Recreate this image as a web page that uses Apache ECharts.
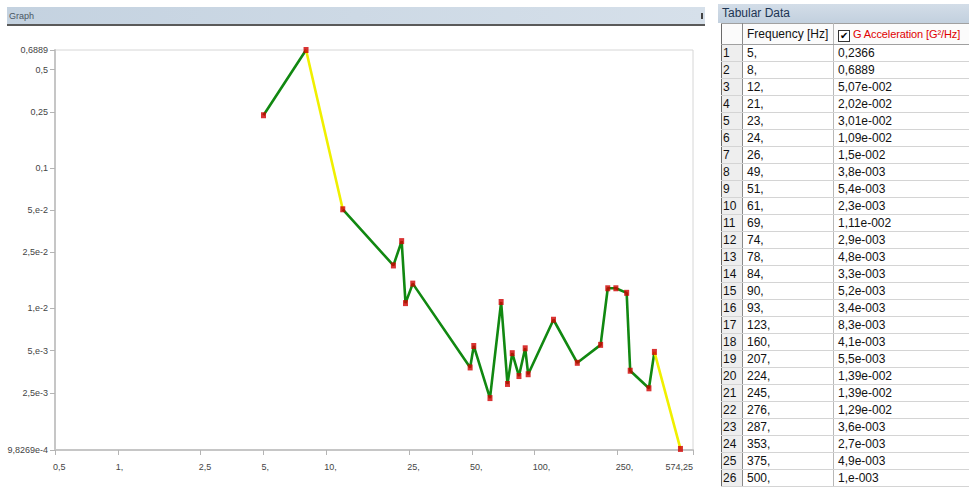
<!DOCTYPE html>
<html>
<head>
<meta charset="utf-8">
<script src="https://cdn.jsdelivr.net/npm/echarts@6/dist/echarts.min.js"></script>
<style>
  html, body { margin:0; padding:0; background:#fff; width:969px; height:487px; overflow:hidden; font-family:"Liberation Sans", Arial, sans-serif; }
  #chart { position:absolute; left:0; top:0; width:710px; height:487px; }
  #gHead { position:absolute; left:7px; top:7px; width:698px; height:19px; border-bottom:2px solid #5a5a5a;
           background:linear-gradient(to right,#c4d2e0,#d6e0ea); font-size:9px; color:#4a5563; line-height:19px; padding-left:2px; box-sizing:border-box; }
  #gHead .pin { position:absolute; right:2px; top:6px; width:2px; height:6px; background:#444; }
  #tHead { position:absolute; left:718px; top:4px; width:251px; height:19px; background:linear-gradient(to bottom,#d3dde8,#c2d0de);
           font-size:12px; color:#1d3553; line-height:19px; padding-left:4px; box-sizing:border-box; }
  #tabWrap { position:absolute; left:721px; top:23px; width:248px; height:464px; overflow:hidden; }
  table { border-collapse:collapse; table-layout:fixed; width:252px; font-size:12px; color:#111; }
  td { height:16px; padding:0 0 0 4px; border-bottom:1px solid #d4d4d4; border-right:1px solid #b8b8b8; white-space:nowrap; overflow:hidden; line-height:16px; }
  td.n { background:#eeeeee; border-right:1px solid #8a8a8a; border-left:1px solid #6a6a6a; padding-left:1px; }
  tr.h td { height:20px; line-height:20px; background:#fbfbfb; border-bottom:1px solid #a0a0a0; border-top:1px solid #a0a0a0; }
  .cb { display:inline-block; width:10px; height:10px; border:1px solid #333; font-size:10px; line-height:10px; text-align:center; vertical-align:-1px; margin:0 3px 0 2px; background:#fff; color:#000; }
  .red { color:#e00000; font-size:11px; letter-spacing:-0.1px; }
</style>
</head>
<body>
<div id="chart"></div>
<div id="gHead">Graph<span class="pin"></span></div>
<div id="tHead">Tabular Data</div>
<div id="tabWrap"></div>
<script>
// ---- data ----
const freq  = [5, 8, 12, 21, 23, 24, 26, 49, 51, 61, 69, 74, 78, 84, 90, 93, 123, 160, 207, 224, 245, 276, 287, 353, 375, 500];
const accel = [0.2366, 0.6889, 0.0507, 0.0202, 0.0301, 0.0109, 0.015, 0.0038, 0.0054, 0.0023, 0.0111, 0.0029, 0.0048, 0.0033, 0.0052, 0.0034, 0.0083, 0.0041, 0.0055, 0.0139, 0.0139, 0.0129, 0.0036, 0.0027, 0.0049, 0.001];
// colour class of each segment between consecutive points
const segColor = ['g','y','g','g','g','g','g','g','g','g','g','g','g','g','g','g','g','g','g','g','g','g','g','g','y'];

const xTickValues = [0.5, 1, 2.5, 5, 10, 25, 50, 100, 250, 574.25];
const xTickLabels = ['0,5', '1,', '2,5', '5,', '10,', '25,', '50,', '100,', '250,', '574,25'];
const yTickValues = [0.6889, 0.5, 0.25, 0.1, 0.05, 0.025, 0.01, 0.005, 0.0025, 0.00098269];
const yTickLabels = ['0,6889', '0,5', '0,25', '0,1', '5,e-2', '2,5e-2', '1,e-2', '5,e-3', '2,5e-3', '9,8269e-4'];

const tableHeaders = ['Frequency [Hz]', 'G Acceleration [G\u00B2/Hz]'];

// ---- helpers ----
function lookup(vals, labels, v) {
  for (let i = 0; i < vals.length; i++) if (Math.abs(vals[i] - v) / vals[i] < 1e-6) return labels[i];
  return '';
}
function segData(c) {
  const out = []; let last = -2;
  for (let i = 0; i < segColor.length; i++) {
    if (segColor[i] !== c) continue;
    if (last !== i) { if (out.length) out.push([freq[i], '-']); out.push([freq[i], accel[i]]); }
    out.push([freq[i + 1], accel[i + 1]]); last = i + 1;
  }
  return out;
}
function fmtAccel(v) {
  if (v >= 0.1) return String(v).replace('.', ',');
  const parts = v.toExponential().split('e');
  const m = parts[0].indexOf('.') >= 0 ? parts[0].replace('.', ',') : parts[0] + ',';
  const e = parseInt(parts[1], 10);
  return m + 'e' + (e < 0 ? '-' : '+') + String(Math.abs(e)).padStart(3, '0');
}

// ---- table ----
(function () {
  let h = '<table><colgroup><col style="width:21px"><col style="width:91px"><col style="width:140px"></colgroup>';
  h += '<tr class="h"><td class="n"></td><td>' + tableHeaders[0] + '</td><td style="padding-left:2px"><span class="cb">&#x2714;</span><span class="red">' + tableHeaders[1] + '</span></td></tr>';
  for (let i = 0; i < freq.length; i++) {
    h += '<tr><td class="n">' + (i + 1) + '</td><td>' + freq[i] + ',</td><td>' + fmtAccel(accel[i]) + '</td></tr>';
  }
  h += '</table>';
  document.getElementById('tabWrap').innerHTML = h;
})();

// ---- chart ----
const chart = echarts.init(document.getElementById('chart'), null, { renderer: 'svg' });
const labelFont = { fontSize: 9, color: '#444', fontFamily: 'Liberation Sans' };
chart.setOption({
  animation: false,
  grid: { left: 55, right: 17, top: 50, bottom: 37, show: true, borderColor: '#d6d6d6', borderWidth: 1 },
  xAxis: {
    type: 'log', logBase: 10, min: 0.5, max: 574.25,
    axisLine: { show: true, lineStyle: { color: '#c6c6c6', width: 2 } },
    axisTick: { show: true, customValues: xTickValues, length: 5, lineStyle: { color: '#b4b4b4' } },
    axisLabel: Object.assign({ customValues: xTickValues, formatter: v => lookup(xTickValues, xTickLabels, v),
      align: 'left', alignMaxLabel: 'right', margin: 12, padding: [0, 0, 0, -2], showMinLabel: true, showMaxLabel: true }, labelFont),
    splitLine: { show: false }, minorTick: { show: false }
  },
  yAxis: {
    type: 'log', logBase: 10, min: 0.00098269, max: 0.6889,
    axisLine: { show: true, lineStyle: { color: '#c6c6c6', width: 2 } },
    axisTick: { show: true, customValues: yTickValues, length: 5, lineStyle: { color: '#b4b4b4' } },
    axisLabel: Object.assign({ customValues: yTickValues, formatter: v => lookup(yTickValues, yTickLabels, v),
      margin: 7, showMinLabel: true, showMaxLabel: true }, labelFont),
    splitLine: { show: false }, minorTick: { show: false }
  },
  series: [
    { type: 'line', data: segData('g'), symbol: 'none', connectNulls: false, z: 2,
      lineStyle: { color: '#118811', width: 2.6 } },
    { type: 'line', data: segData('y'), symbol: 'none', connectNulls: false, z: 2,
      lineStyle: { color: '#f0f000', width: 2.6 } },
    { type: 'scatter', data: freq.map((f, i) => [f, accel[i]]), symbol: 'rect', symbolSize: [5, 6], z: 5,
      itemStyle: { color: '#d00000' } }
  ]
});
</script>
</body>
</html>
